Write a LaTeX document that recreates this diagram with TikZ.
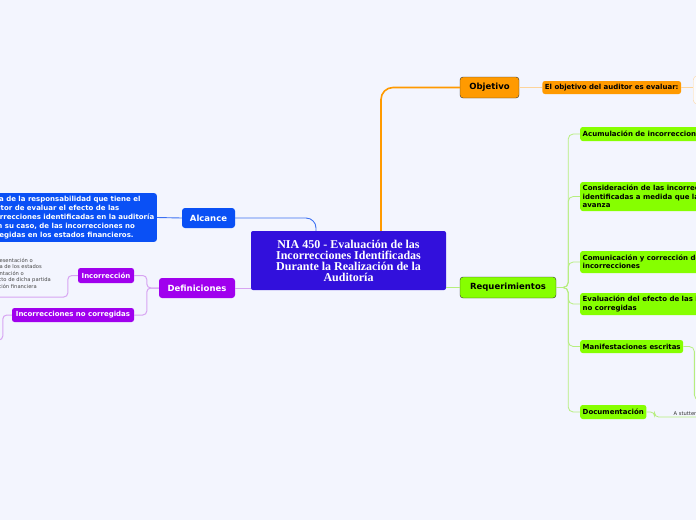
\documentclass[tikz,border=0pt]{standalone}
\usepackage{fontspec}
\setmainfont{DejaVu Sans}
\newfontfamily\mapserif{Liberation Serif}
\usetikzlibrary{positioning}
\definecolor{mapbg}{HTML}{F3F5FE}
\definecolor{rootblue}{HTML}{3210DC}
\definecolor{alcblue}{HTML}{0A50F5}
\definecolor{defpurple}{HTML}{A000EE}
\definecolor{objorange}{HTML}{FF9A00}
\definecolor{reqgreen}{HTML}{86FF00}
\definecolor{alcline}{HTML}{3C70F2}
\definecolor{defline}{HTML}{D7A4F2}
\definecolor{reqline}{HTML}{B6EE7E}
\definecolor{objline}{HTML}{FDD49A}
\newcommand{\linepad}[1]{\makebox[#1]{}}

\begin{document}
\begin{tikzpicture}[x=1pt, y=-1pt,
      topic/.style={rectangle, rounded corners=3pt, text=white, inner sep=2pt,
                    font=\bfseries\fontsize{8.5}{10}\selectfont},
      sub/.style={rectangle, rounded corners=2.5pt, inner sep=2.5pt, align=left,
                  font=\bfseries\fontsize{7}{8.4}\selectfont},
      reqbox/.style={sub, fill=reqgreen, anchor=west},
      plain/.style={inner sep=0pt, text=black!72,
                    font=\fontsize{5.2}{6.5}\selectfont}]
    \useasboundingbox (0,0) rectangle (696,520);
    \fill[mapbg] (0,0) rectangle (696,520);
    \clip (0,0) rectangle (696,520);

    % centro
    \node[rectangle, rounded corners=2pt, fill=rootblue, text=white, align=center,
          minimum width=195pt, minimum height=59pt,
          font=\mapserif\bfseries\fontsize{12}{11}\selectfont] (root) at (348.5,260.5)
      {NIA 450 - Evaluación de las\\Incorrecciones Identificadas\\Durante la Realización de la\\Auditoría};

    % izquierda
    \node[topic, fill=alcblue, minimum width=53pt, minimum height=20pt] (alcance) at (208.5,218) {Alcance};
    \node[sub, fill=alcblue, text=white, anchor=east, minimum height=47pt,
          font=\bfseries\fontsize{7}{9.2}\selectfont] (alcdesc) at (157,217.5)
      {Trata de la responsabilidad que tiene el\\auditor de evaluar el efecto de las\\incorrecciones identificadas en la auditoría\\y, en su caso, de las incorrecciones no\\corregidas en los estados financieros.};
    \node[topic, fill=defpurple, minimum width=76pt, minimum height=20pt] (defin) at (197,288) {Definiciones};
    \node[sub, fill=defpurple, text=white, minimum width=56pt, minimum height=15pt] (incorr) at (106,275.5) {Incorrección};
    \node[sub, fill=defpurple, text=white, minimum width=122pt, minimum height=14pt] (nocorr) at (73,315) {Incorrecciones no corregidas};
    \node[plain, align=right, anchor=south east] (incdef) at (51,288.5)
      {diferencia entre la cantidad, clasificación, presentación o\linepad{18pt}\\
       revelación de una partida de los estados\linepad{9pt}\\
       financieros y la cantidad, clasificación, presentación o\linepad{27pt}\\
       revelación requerida respecto de dicha partida\\
       de conformidad con el marco de información financiera\linepad{14pt}};
    \coordinate (incend) at (-10,297);
    \coordinate (nocend) at (-10,340);

    % derecha
    \node[topic, fill=objorange, draw=black!80, text=black, minimum width=59pt,
          minimum height=21pt] (objetivo) at (489.5,87.5) {Objetivo};
    \node[sub, fill=objorange, minimum height=13pt, right=23pt of objetivo] (objchild)
      {El objetivo del auditor es evaluar:};
    \node[rectangle, rounded corners=4pt, fill=white!60!mapbg, draw=objline, anchor=west,
          minimum width=40pt, minimum height=28pt] (objlist) at (693,90) {};
    \node[topic, fill=reqgreen, draw=black!80, text=black, minimum width=96pt,
          minimum height=21pt] (req) at (508,287.5) {Requerimientos};

    \node[reqbox, minimum height=14pt] (acum) at (580,134) {Acumulación de incorrecciones};
    \node[reqbox, minimum height=29pt] (consid) at (580,196.5)
      {Consideración de las incorrecciones\\identificadas a medida que la auditoría\\avanza};
    \node[reqbox, minimum height=22pt] (comun) at (580,262)
      {Comunicación y corrección de las\\incorrecciones};
    \node[reqbox, minimum height=22pt] (evalu) at (580,304)
      {Evaluación del efecto de las incorrecciones\\no corregidas};
    \node[reqbox, minimum height=13pt] (manif) at (580,346.5) {Manifestaciones escritas};
    \node[reqbox, minimum height=14pt] (docu) at (580,412) {Documentación};
    \node[plain, anchor=south west, inner sep=1.5pt, text=black!80] (docchild) at (672,417) {A stutter};
    \coordinate (manend) at (720,400);

    % conectores
    \draw[alcline, line width=0.9pt, rounded corners=10pt]
      ([xshift=-32.5pt]root.north) |- (alcance.east);
    \draw[alcline, line width=0.9pt] (alcance.west) -- (alcdesc.east);
    \draw[objorange, line width=1.6pt, rounded corners=12pt]
      ([xshift=32.5pt]root.north) |- (objetivo.west);
    \draw[objline, line width=0.9pt] (objetivo.east) -- (objchild.west);
    \draw[objline, line width=0.9pt] (objchild.east) -- (objchild.east -| objlist.west);
    \draw[defline, line width=1pt] (root.west |- defin.east) -- (defin.east);
    \draw[defline, line width=1pt, rounded corners=4pt] (defin.west) -- ++(-12,0) |- (incorr.east);
    \draw[defline, line width=1pt, rounded corners=4pt] (defin.west) -- ++(-12,0) |- (nocorr.east);
    \draw[defline, line width=1pt, rounded corners=4pt] (incorr.west) -- ++(-10,0) |- (incend);
    \draw[defline, line width=1pt, rounded corners=4pt] (nocorr.west) -- ++(-9,0) |- (nocend);
    \draw[reqline, line width=0.9pt] (root.east |- req.west) -- (req.west);
    \foreach \kid in {acum, consid, comun, evalu, manif, docu}
      \draw[reqline, line width=0.8pt, rounded corners=5pt] (req.east) -- ++(12,0) |- (\kid.west);
    \draw[reqline, line width=0.8pt, rounded corners=5pt] (manif.east) -- ++(11,0) |- (manend);
    \draw[reqline, line width=0.8pt, rounded corners=4pt]
      (docu.east) -- ++(8,0) |- (docchild.south west) -- ++(40,0);
  \end{tikzpicture}
\end{document}
